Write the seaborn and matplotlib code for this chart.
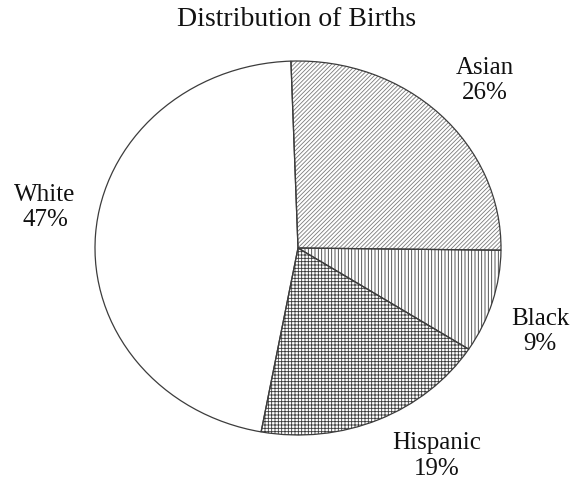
import matplotlib
matplotlib.use("Agg")
import matplotlib.pyplot as plt
import seaborn as sns

categories = ["Asian", "Black", "Hispanic", "White"]
values = [26, 9, 19, 47]
pct_labels = ["26%", "9%", "19%", "47%"]

hatches = ["////////", "|||||", "+++++", ""]
hatch_colors = ["#7a7a7a", "#3a3a3a", "#3a3a3a", "#ffffff"]
label_pos = [(0.921, 0.896), (1.192, -0.446), (0.685, -1.112), (-1.246, 0.217)]

sns.set_theme(style="white")
plt.rcParams["font.family"] = ["Liberation Serif", "DejaVu Serif"]
plt.rcParams["hatch.linewidth"] = 0.6

fig = plt.figure(figsize=(5.81, 4.80), dpi=100)
ax = fig.add_axes([0, 0, 1, 1])

wedges, _ = ax.pie(values, startangle=92, counterclock=False,
                   colors=["white"] * len(values), hatch=hatches,
                   wedgeprops=dict(linewidth=0))
for w, c in zip(wedges, hatch_colors):
    w.set_edgecolor(c)

outline, texts = ax.pie(values, startangle=92, counterclock=False,
                        labels=[f"{c}\n{p}" for c, p in zip(categories, pct_labels)],
                        wedgeprops=dict(fill=False, edgecolor="#3c3c3c", linewidth=0.9),
                        textprops=dict(fontsize=18, color="#111111"))
for t, (x, y) in zip(texts, label_pos):
    t.set_position((x, y))
    t.set_ha("center")
    t.set_va("center")
    t.set_multialignment("center")

ax.set_aspect("auto")
ax.set_xlim(-298 / 203, (581 - 298) / 203)
ax.set_ylim(-232 / 187, 248 / 187)
ax.axis("off")

fig.text(297 / 581, 1 - 19 / 480, "Distribution of Births", ha="center", va="center",
         fontsize=20, color="#111111")

fig.savefig("out.png", dpi=100)
